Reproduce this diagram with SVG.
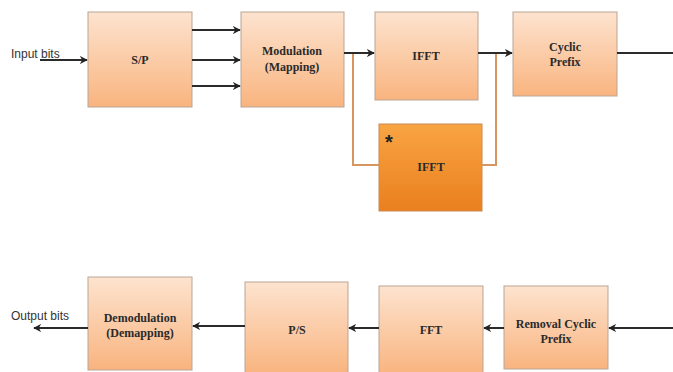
<svg xmlns="http://www.w3.org/2000/svg" width="673" height="372" viewBox="0 0 673 372">
<defs>
<linearGradient id="peach" x1="0" y1="0" x2="0" y2="1">
<stop offset="0" stop-color="#fde3cf"/>
<stop offset="1" stop-color="#f9b47f"/>
</linearGradient>
<linearGradient id="orange" x1="0" y1="0" x2="0" y2="1">
<stop offset="0" stop-color="#f9a443"/>
<stop offset="1" stop-color="#ea7f1e"/>
</linearGradient>
<marker id="arr" viewBox="0 0 10 10" refX="9" refY="5" markerWidth="4" markerHeight="4" orient="auto">
<path d="M0,0 L10,5 L0,10 L3,5 Z" fill="#222"/>
</marker>
</defs>
<style>
.box{fill:url(#peach);stroke:#b9a594;stroke-width:1}
.obox{fill:url(#orange);stroke:#c98a55;stroke-width:1}
.lbl{font-family:"Liberation Serif",serif;font-weight:bold;font-size:12px;fill:#2a2a2a;text-anchor:middle}
.plain{font-family:"Liberation Sans",Arial,sans-serif;font-size:12px;fill:#333}
.ln{stroke:#2b2b2b;stroke-width:2;fill:none}
.br{stroke:#d7955f;stroke-width:2;fill:none}
</style>
<rect width="673" height="372" fill="#fff"/>
<g id="sp"><rect class="box" x="88" y="12" width="104" height="95"/><text class="lbl" x="140" y="64">S/P</text></g>
<g id="mod"><rect class="box" x="241" y="12" width="103" height="95"/><text class="lbl" x="292" y="55">Modulation</text><text class="lbl" x="292" y="71">(Mapping)</text></g>
<g id="ifft"><rect class="box" x="375" y="12" width="103" height="88"/><text class="lbl" x="426" y="60">IFFT</text></g>
<g id="cp"><rect class="box" x="513" y="12" width="104" height="84"/><text class="lbl" x="565" y="51">Cyclic</text><text class="lbl" x="565" y="66">Prefix</text></g>
<g id="ifft2"><rect class="obox" x="379" y="124" width="103" height="87"/><text class="lbl" x="431" y="171">IFFT</text><text x="389" y="149" font-family="Liberation Sans,sans-serif" font-weight="bold" font-size="20" fill="#222" text-anchor="middle">*</text></g>
<g id="demod"><rect class="box" x="88" y="277" width="104" height="93"/><text class="lbl" x="140" y="322">Demodulation</text><text class="lbl" x="140" y="337">(Demapping)</text></g>
<g id="ps"><rect class="box" x="245" y="282" width="103" height="92"/><text class="lbl" x="297" y="334">P/S</text></g>
<g id="fft"><rect class="box" x="379" y="286" width="104" height="88"/><text class="lbl" x="431" y="334">FFT</text></g>
<g id="rcp"><rect class="box" x="504" y="286" width="104" height="83"/><text class="lbl" x="556" y="328">Removal Cyclic</text><text class="lbl" x="556" y="343">Prefix</text></g>
<text class="plain" x="11" y="58">Input bits</text>
<text class="plain" x="11" y="320">Output bits</text>
<g id="connectors">
<line class="ln" x1="40" y1="60" x2="87" y2="60" marker-end="url(#arr)"/>
<line class="ln" x1="192" y1="30" x2="240" y2="30" marker-end="url(#arr)"/>
<line class="ln" x1="192" y1="60" x2="240" y2="60" marker-end="url(#arr)"/>
<line class="ln" x1="192" y1="86" x2="240" y2="86" marker-end="url(#arr)"/>
<polyline class="br" points="353,53 353,165 379,165"/>
<polyline class="br" points="482,165 496,165 496,53"/>
<line class="ln" x1="344" y1="53" x2="374" y2="53" marker-end="url(#arr)"/>
<line class="ln" x1="478" y1="53" x2="512" y2="53" marker-end="url(#arr)"/>
<line class="ln" x1="617" y1="53" x2="673" y2="53"/>
<line class="ln" x1="673" y1="328" x2="609" y2="328" marker-end="url(#arr)"/>
<line class="ln" x1="504" y1="328" x2="484" y2="328" marker-end="url(#arr)"/>
<line class="ln" x1="379" y1="328" x2="349" y2="328" marker-end="url(#arr)"/>
<line class="ln" x1="245" y1="326" x2="193" y2="326" marker-end="url(#arr)"/>
<line class="ln" x1="88" y1="328" x2="34" y2="328" marker-end="url(#arr)"/>
</g>
</svg>
